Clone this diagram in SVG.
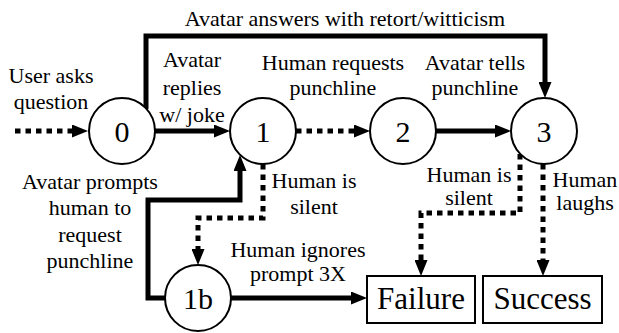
<svg xmlns="http://www.w3.org/2000/svg" width="619" height="333" viewBox="0 0 619 333">
<style>
text{font-family:'Liberation Serif','Times New Roman','DejaVu Serif',serif;font-size:22px;fill:#000;text-anchor:middle}
.num{font-size:30px}
.big{font-size:31px}
.node circle,.node rect{fill:#fff;stroke:#000;stroke-width:2}
.solid{fill:none;stroke:#000;stroke-width:5}
.dot{fill:none;stroke:#000;stroke-width:5;stroke-dasharray:5.5 5}
</style>
<defs>
<marker id="ah" markerUnits="userSpaceOnUse" viewBox="0 0 16 13" refX="0" refY="6.5" markerWidth="16" markerHeight="13" orient="auto">
<path d="M0,0 L16,6.5 L0,13 Z" fill="#000"/>
</marker>
</defs>
<g id="connectors">
<path class="dot" d="M15,131 H72" marker-end="url(#ah)"/>
<path class="solid" d="M155,131 H214" marker-end="url(#ah)"/>
<path class="solid" d="M146,109 V36 H545 V82" marker-end="url(#ah)"/>
<path class="dot" d="M296,131 H354" marker-end="url(#ah)"/>
<path class="solid" d="M436,131 H495" marker-end="url(#ah)"/>
<path class="dot" d="M263,164 V218 H198 V249" marker-end="url(#ah)"/>
<path class="solid" d="M165,298 H148 V200 H240 V171" marker-end="url(#ah)"/>
<path class="solid" d="M231,298 H351" marker-end="url(#ah)"/>
<path class="dot" d="M520,154 V213 H421 V260" marker-end="url(#ah)"/>
<path class="dot" d="M543,164 V260" marker-end="url(#ah)"/>
</g>
<g font-family="Liberation Serif, Times New Roman, DejaVu Serif, serif">
<g id="node0" class="node"><circle cx="122" cy="131" r="33"/><text class="num" x="122" y="142">0</text></g>
<g id="node1" class="node"><circle cx="263" cy="131" r="33"/><text class="num" x="263" y="142">1</text></g>
<g id="node2" class="node"><circle cx="403" cy="131" r="33"/><text class="num" x="403" y="142">2</text></g>
<g id="node3" class="node"><circle cx="544" cy="131" r="33"/><text class="num" x="544" y="142">3</text></g>
<g id="node1b" class="node"><circle cx="198" cy="298" r="33"/><text class="num" x="198" y="309">1b</text></g>
<g id="failure" class="node"><rect x="367" y="276" width="108" height="47"/><text class="big" x="421" y="309">Failure</text></g>
<g id="success" class="node"><rect x="483" y="276" width="119" height="47"/><text class="big" x="542.5" y="309">Success</text></g>
<g id="labels">
<text x="345" y="26">Avatar answers with retort/witticism</text>
<text x="51" y="83">User asks</text>
<text x="51" y="109">question</text>
<text x="192" y="67">Avatar</text>
<text x="192" y="95">replies</text>
<text x="192" y="122">w/ joke</text>
<text x="333" y="70">Human requests</text>
<text x="333" y="95">punchline</text>
<text x="475" y="70">Avatar tells</text>
<text x="475" y="95">punchline</text>
<text x="314" y="188">Human is</text>
<text x="314" y="214">silent</text>
<text x="90" y="189">Avatar prompts</text>
<text x="90" y="215">human to</text>
<text x="90" y="242">request</text>
<text x="90" y="268">punchline</text>
<text x="298" y="257">Human ignores</text>
<text x="298" y="281">prompt 3X</text>
<text x="469" y="182">Human is</text>
<text x="469" y="205">silent</text>
<text x="585" y="187">Human</text>
<text x="585" y="210">laughs</text>
</g>
</g>
</svg>
